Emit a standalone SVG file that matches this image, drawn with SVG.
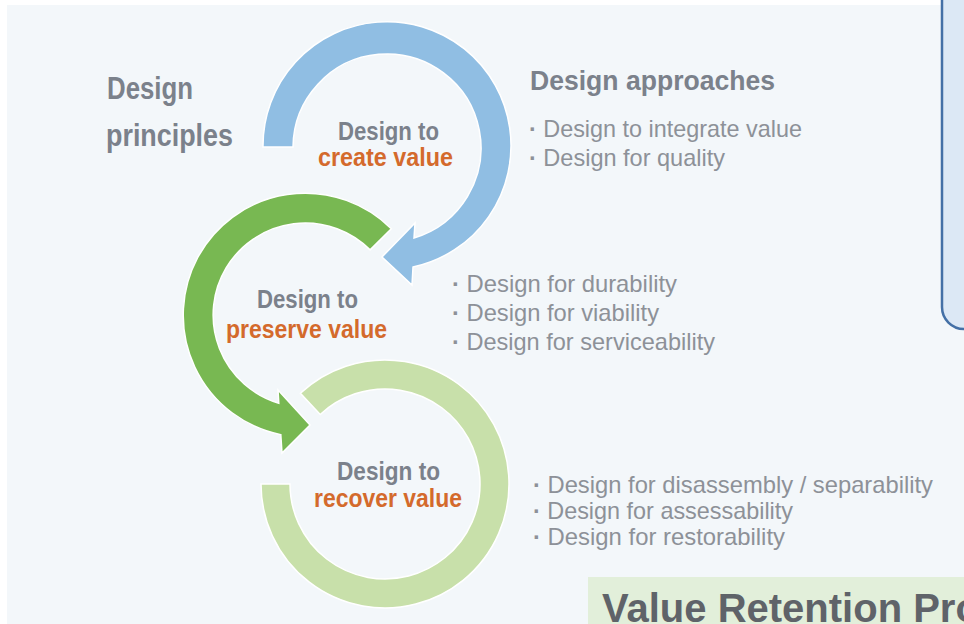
<svg xmlns="http://www.w3.org/2000/svg" width="964" height="624" viewBox="0 0 964 624">
<style>
.lbl{font-family:"Liberation Sans",Arial,sans-serif;font-weight:bold;fill:#7b818b}
.org{font-family:"Liberation Sans",Arial,sans-serif;font-weight:bold;fill:#d46a2c}
.item{font-family:"Liberation Sans",Arial,sans-serif;font-size:24px;fill:#8d9198}
.dot{font-weight:bold}
.ring{stroke:#ffffff;stroke-width:1.5}
</style>
<rect width="964" height="624" fill="#ffffff"/>
<rect x="7" y="5" width="957" height="619" fill="#f3f7fa"/>

<g id="connectors">
  <path id="arc-create" class="ring" fill="#90bee3" d="M263,147 A124,124 0 1 1 413,267 L412,285 L382,257 L415,223 L414,238 A94,94 0 1 0 293,147 Z"/>
  <path id="arc-preserve" class="ring" fill="#78b852" d="M391.3,228.7 A122,122 0 1 0 280.8,434.7 L282,453 L310,425 L278,390 L278.8,403.2 A92,92 0 1 1 370.1,249.9 Z"/>
  <path id="arc-recover" class="ring" fill="#c8e0aa" d="M300.4,393.3 A124,124 0 1 1 261,484 L290,484 A95,95 0 1 0 320.2,414.5 Z"/>
</g>

<g id="design-principles">
  <text class="lbl" x="107" y="99" font-size="31" textLength="86" lengthAdjust="spacingAndGlyphs">Design</text>
  <text class="lbl" x="106" y="146" font-size="31" textLength="127" lengthAdjust="spacingAndGlyphs">principles</text>
</g>

<g id="design-approaches">
  <text class="lbl" x="530" y="90" font-size="28" textLength="245" lengthAdjust="spacingAndGlyphs">Design approaches</text>
</g>

<g id="node-create">
  <text class="lbl" x="338" y="140" font-size="25" textLength="101" lengthAdjust="spacingAndGlyphs">Design to</text>
  <text class="org" x="318" y="166" font-size="25" textLength="135" lengthAdjust="spacingAndGlyphs">create value</text>
</g>

<g id="node-preserve">
  <text class="lbl" x="257" y="308" font-size="25" textLength="101" lengthAdjust="spacingAndGlyphs">Design to</text>
  <text class="org" x="226" y="338" font-size="25" textLength="161" lengthAdjust="spacingAndGlyphs">preserve value</text>
</g>

<g id="node-recover">
  <text class="lbl" x="337" y="480" font-size="25" textLength="103" lengthAdjust="spacingAndGlyphs">Design to</text>
  <text class="org" x="314" y="507" font-size="25" textLength="148" lengthAdjust="spacingAndGlyphs">recover value</text>
</g>

<g id="list-create">
  <text class="item" x="529" y="137" textLength="273" lengthAdjust="spacingAndGlyphs"><tspan class="dot">·</tspan> Design to integrate value</text>
  <text class="item" x="529" y="166" textLength="196" lengthAdjust="spacingAndGlyphs"><tspan class="dot">·</tspan> Design for quality</text>
</g>

<g id="list-preserve">
  <text class="item" x="452" y="292" textLength="225" lengthAdjust="spacingAndGlyphs"><tspan class="dot">·</tspan> Design for durability</text>
  <text class="item" x="452" y="321" textLength="207" lengthAdjust="spacingAndGlyphs"><tspan class="dot">·</tspan> Design for viability</text>
  <text class="item" x="452" y="350" textLength="263" lengthAdjust="spacingAndGlyphs"><tspan class="dot">·</tspan> Design for serviceability</text>
</g>

<g id="list-recover">
  <text class="item" x="533" y="493" textLength="400" lengthAdjust="spacingAndGlyphs"><tspan class="dot">·</tspan> Design for disassembly / separability</text>
  <text class="item" x="533" y="519" textLength="260" lengthAdjust="spacingAndGlyphs"><tspan class="dot">·</tspan> Design for assessability</text>
  <text class="item" x="533" y="545" textLength="252" lengthAdjust="spacingAndGlyphs"><tspan class="dot">·</tspan> Design for restorability</text>
</g>

<g id="side-box">
  <rect x="942" y="-30" width="80" height="359" rx="22" fill="#dce8f5" stroke="#4470a6" stroke-width="2.5"/>
</g>

<g id="value-retention-box">
  <rect x="588" y="577" width="400" height="60" fill="#e2efda"/>
  <text x="602" y="622" font-family="'Liberation Sans',Arial,sans-serif" font-weight="bold" font-size="40" fill="#5f6369">Value Retention Pro</text>
</g>
</svg>
